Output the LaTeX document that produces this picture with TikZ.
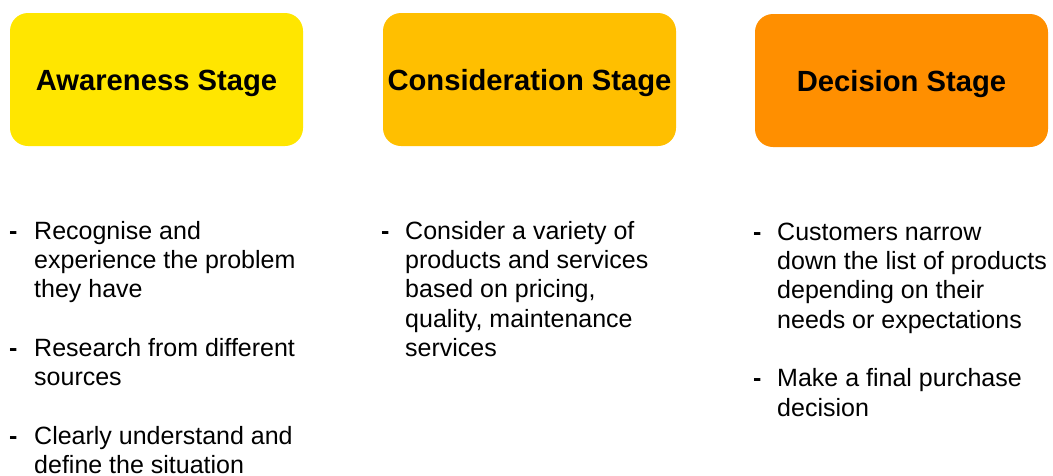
\documentclass[tikz,border=0pt]{standalone}
\usepackage{fontspec}
\setmainfont{Liberation Sans}
\definecolor{awareYellow}{HTML}{FFE600}
\definecolor{considerAmber}{HTML}{FFBF00}
\definecolor{decideOrange}{HTML}{FF8F00}
\tikzset{
  stagebox/.style={rounded corners=18pt, minimum width=293pt, minimum height=133pt,
    inner sep=0pt, text height=21pt, text depth=0pt,
    font=\fontsize{29.2}{34}\selectfont\bfseries},
  itemtext/.style={anchor=north west, inner sep=0pt, align=left,
    font=\fontsize{25}{29.3}\selectfont},
  dashmark/.style={anchor=base west, inner sep=0pt, font=\fontsize{25}{29.3}\selectfont\bfseries}
}
\newcommand{\firstline}{\rule{0pt}{20pt}}
\begin{document}
\begin{tikzpicture}[x=1pt,y=-1pt]
  \useasboundingbox (0,0) rectangle (1053,475);

  % stage headers
  \node[stagebox, fill=awareYellow]   (aware)    at (156.5,79.5) {Awareness Stage};
  \node[stagebox, fill=considerAmber] (consider) at (529.5,79.5) {Consideration Stage};
  \node[stagebox, fill=decideOrange]  (decide)   at (901.5,80.5) {Decision Stage};

  % awareness points
  \node[dashmark] (a1d) at (9,239) {-};
  \node[itemtext] (a1) at (34,219) {\firstline Recognise and\\experience the problem\\they have};
  \node[dashmark] (a2d) at (9,356.2) {-};
  \node[itemtext] (a2) at (34,336.2) {\firstline Research from different\\sources};
  \node[dashmark] (a3d) at (9,444) {-};
  \node[itemtext] (a3) at (34,424) {\firstline Clearly understand and\\define the situation};

  % consideration points
  \node[dashmark] (c1d) at (381,239) {-};
  \node[itemtext] (c1) at (405,219) {\firstline Consider a variety of\\products and services\\based on pricing,\\quality, maintenance\\services};

  % decision points
  \node[dashmark] (d1d) at (753,240) {-};
  \node[itemtext] (d1) at (777,220) {\firstline Customers narrow\\down the list of products\\depending on their\\needs or expectations};
  \node[dashmark] (d2d) at (753,386.5) {-};
  \node[itemtext] (d2) at (777,366.5) {\firstline Make a final purchase\\decision};
\end{tikzpicture}
\end{document}
